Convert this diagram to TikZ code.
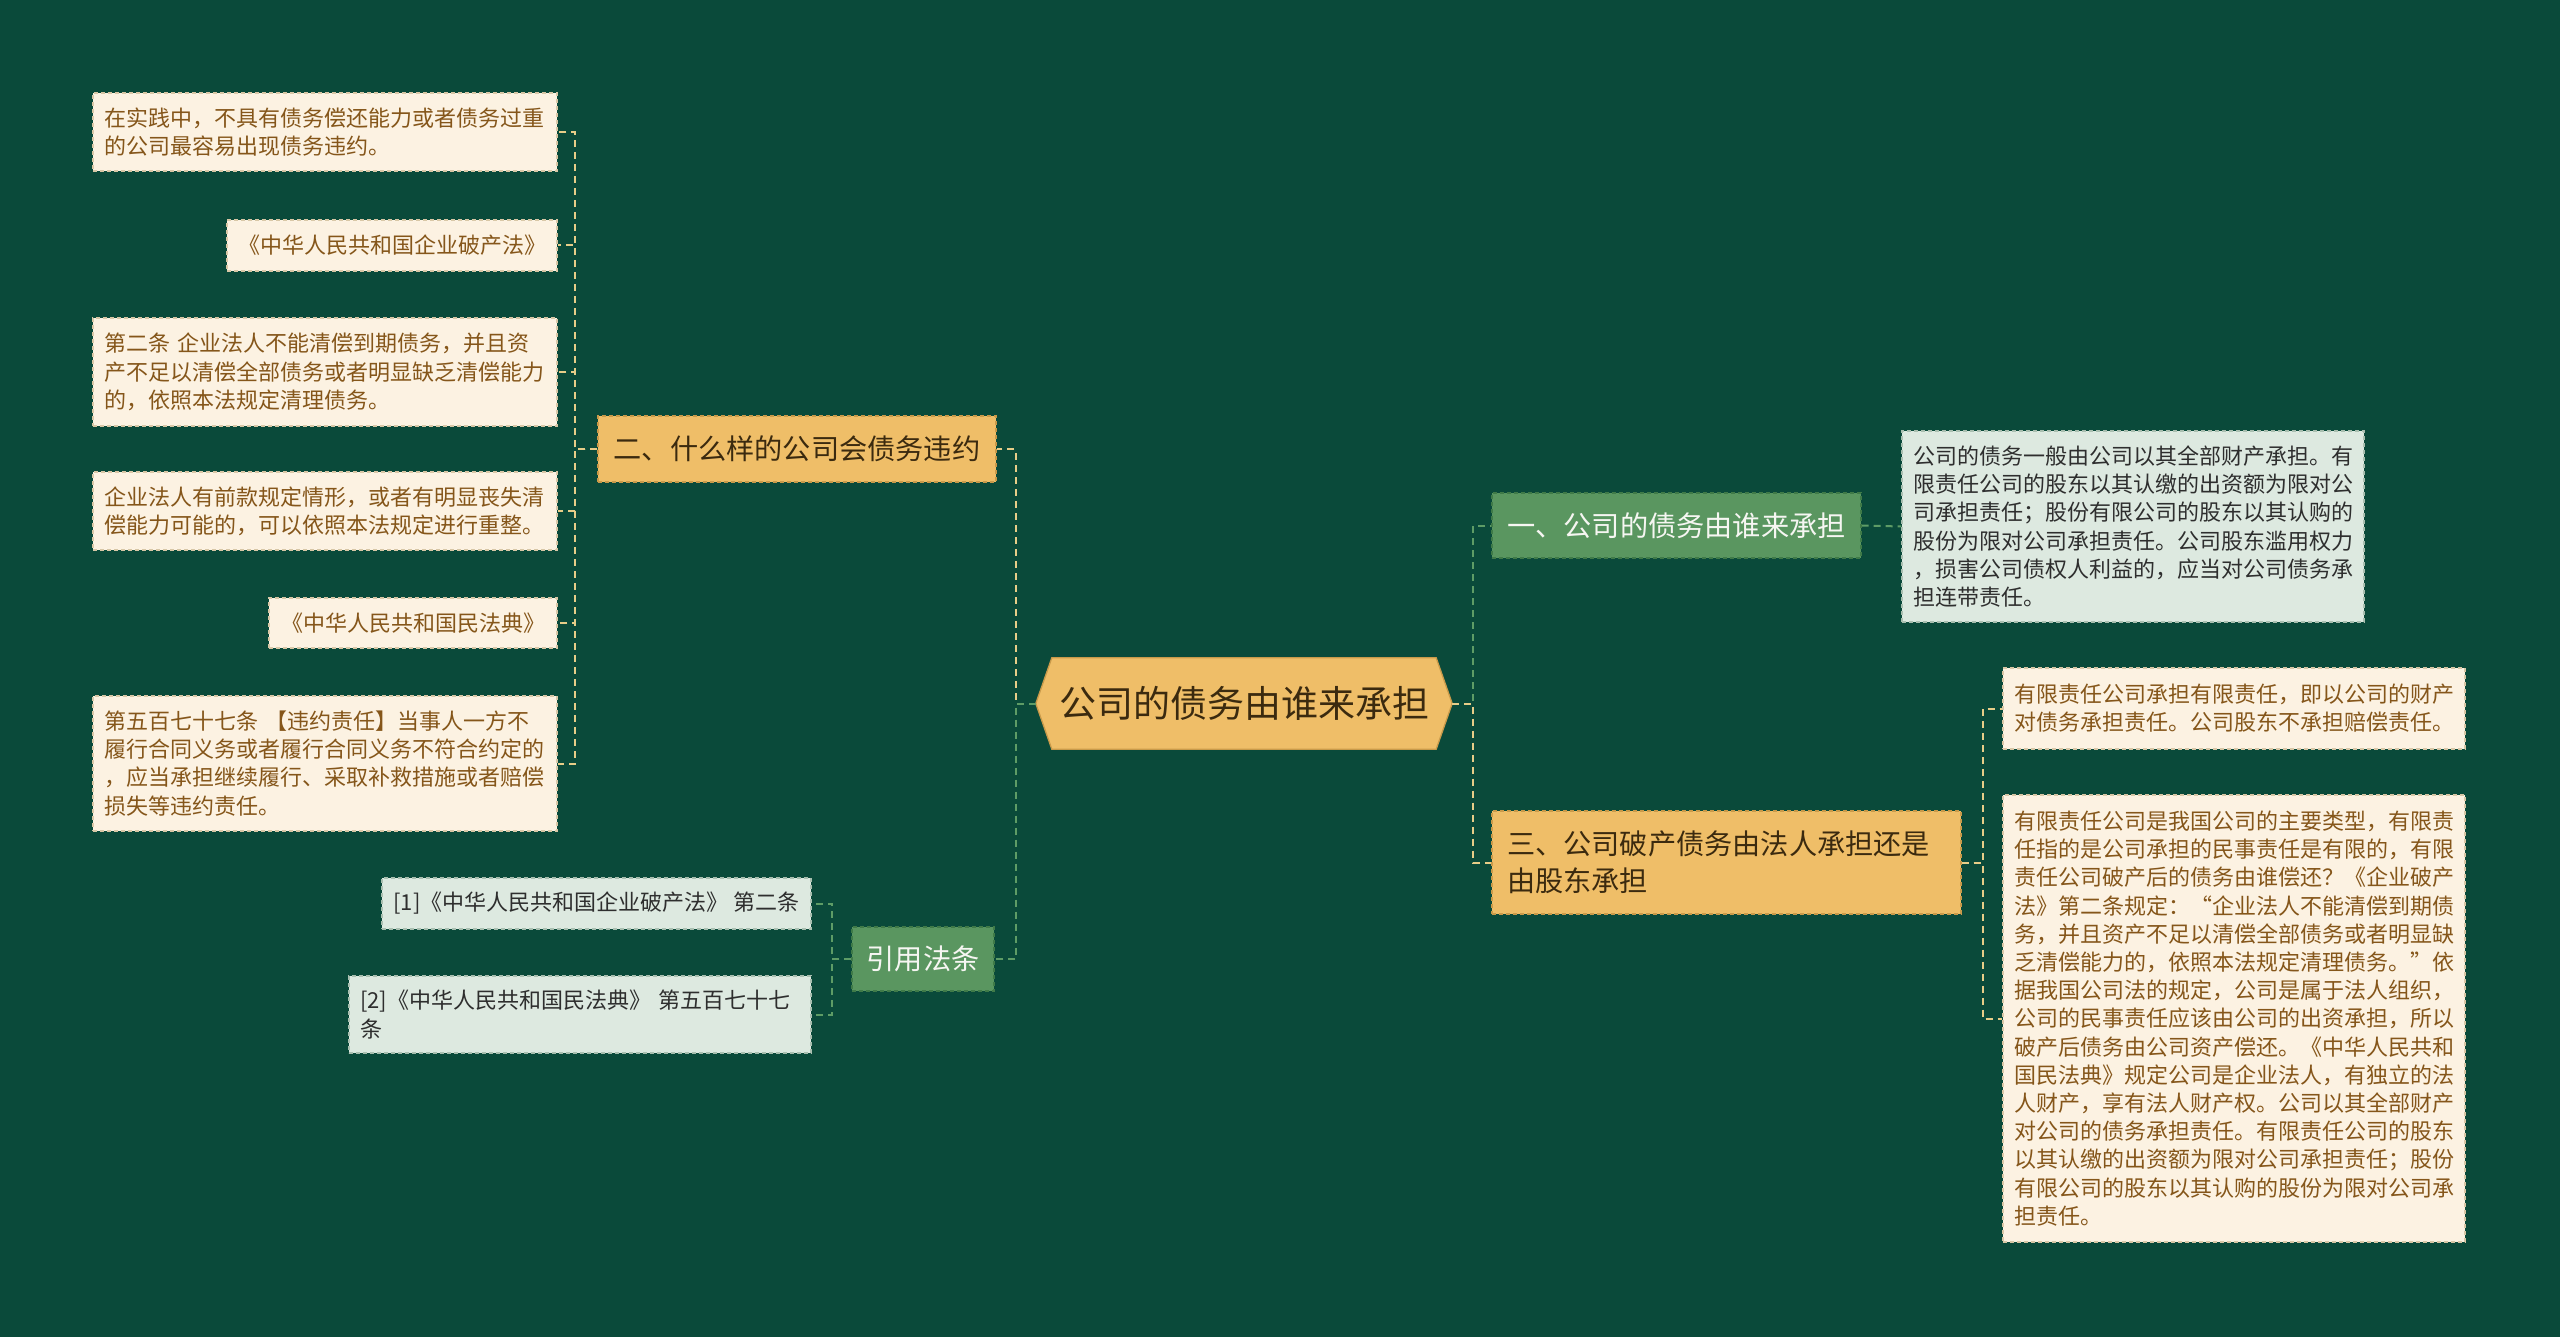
\documentclass[tikz,border=0pt]{standalone}
\usepackage{fontspec}
\newfontfamily\cjk{Noto Sans CJK SC}
\definecolor{bgc}{HTML}{0A4A3A}
\definecolor{orF}{HTML}{EFBE68}
\definecolor{orD}{HTML}{C99A4A}
\definecolor{orT}{HTML}{3B2A0F}
\definecolor{grF}{HTML}{5A9660}
\definecolor{grD}{HTML}{3F7A48}
\definecolor{grT}{HTML}{F6F6F2}
\definecolor{lgF}{HTML}{DDE9E0}
\definecolor{lgD}{HTML}{A9BFB0}
\definecolor{lgT}{HTML}{2E2E2E}
\definecolor{crF}{HTML}{FCF2E2}
\definecolor{crD}{HTML}{D8C7A6}
\definecolor{crT}{HTML}{85561A}
\definecolor{conY}{HTML}{E7CD88}
\definecolor{conG}{HTML}{5E9C66}
\pgfdeclarelayer{back}
\pgfdeclarelayer{mid}
\pgfsetlayers{back,mid,main}
\tikzset{
  box/.style={rectangle, inner xsep=11pt, inner ysep=0pt, align=left, line width=1.3pt, dash pattern=on 4pt off 3pt},
  small/.style={font=\cjk\fontsize{22}{28.2}\selectfont},
  mid/.style={font=\cjk\fontsize{28.2}{37.5}\selectfont},
  cream/.style={box, small, fill=crF, draw=crD, text=crT},
  lgreen/.style={box, small, fill=lgF, draw=lgD, text=lgT},
  orange/.style={box, mid, fill=orF, draw=orD, text=orT},
  green/.style={box, mid, fill=grF, draw=grD, text=grT},
  rootn/.style={rectangle, inner sep=0pt, font=\cjk\fontsize{37}{44}\selectfont, text=orT},
  rootshape/.style={fill=orF, draw=orD, line width=1.3pt, line join=miter},
  cy/.style={draw=conY, line width=2pt, dash pattern=on 7pt off 5pt},
  cg/.style={draw=conG, line width=2pt, dash pattern=on 7pt off 5pt},
}
\begin{document}
\begin{tikzpicture}[x=1pt, y=-1pt]
\begin{pgfonlayer}{back}
\fill[bgc] (0,0) rectangle (2560,1337);
\end{pgfonlayer}
\useasboundingbox (0,0) rectangle (2560,1337);

% root
\node[rootn, minimum width=384pt, minimum height=91pt] (root) at (1244,703.5) {公司的债务由谁来承担};
\begin{pgfonlayer}{mid}
\draw[rootshape] (root.north west) -- (root.north east) -- ([xshift=16pt]root.east) -- (root.south east) -- (root.south west) -- ([xshift=-16pt]root.west) -- cycle;
\end{pgfonlayer}

% main branches
\node[green, minimum width=369pt, minimum height=65pt, align=center] (n1) at (1676.5,525.5) {一、公司的债务由谁来承担};
\node[orange, inner xsep=15pt, text width=439pt, minimum height=103pt] (n3) at (1726.5,862.5) {三、公司破产债务由法人承担还是\\由股东承担};
\node[orange, minimum width=398pt, minimum height=66pt, align=center] (n2) at (797,449) {二、什么样的公司会债务违约};
\node[green, minimum width=142pt, minimum height=64pt, align=center] (cite) at (923,959) {引用法条};

% left leaves
\node[cream, text width=442pt, minimum height=78pt] (L1) at (325,132) {在实践中，不具有债务偿还能力或者债务过重\\的公司最容易出现债务违约。};
\node[cream, minimum width=330pt, minimum height=51pt, align=center] (L2) at (392,245.5) {《中华人民共和国企业破产法》};
\node[cream, text width=442pt, minimum height=108pt] (L3) at (325,372) {第二条 企业法人不能清偿到期债务，并且资\\产不足以清偿全部债务或者明显缺乏清偿能力\\的，依照本法规定清理债务。};
\node[cream, text width=442pt, minimum height=78pt] (L4) at (325,511) {企业法人有前款规定情形，或者有明显丧失清\\偿能力可能的，可以依照本法规定进行重整。};
\node[cream, minimum width=288pt, minimum height=50pt, align=center] (L5) at (413,623) {《中华人民共和国民法典》};
\node[cream, text width=442pt, minimum height=135pt] (L6) at (325,763.5) {第五百七十七条 【违约责任】当事人一方不\\履行合同义务或者履行合同义务不符合约定的\\，应当承担继续履行、采取补救措施或者赔偿\\损失等违约责任。};

% citations
\node[lgreen, minimum width=429pt, minimum height=51pt, align=center] (C1) at (596.5,903.5) {[1]《中华人民共和国企业破产法》 第二条};
\node[lgreen, text width=440pt, minimum height=77pt] (C2) at (580,1014.5) {[2]《中华人民共和国民法典》 第五百七十七\\条};

% right leaves
\node[lgreen, text width=440pt, minimum height=191pt] (R1) at (2133,526.5) {公司的债务一般由公司以其全部财产承担。有\\限责任公司的股东以其认缴的出资额为限对公\\司承担责任；股份有限公司的股东以其认购的\\股份为限对公司承担责任。公司股东滥用权力\\，损害公司债权人利益的，应当对公司债务承\\担连带责任。};
\node[cream, text width=440pt, minimum height=81pt] (R2) at (2234,708.5) {有限责任公司承担有限责任，即以公司的财产\\对债务承担责任。公司股东不承担赔偿责任。};
\node[cream, text width=440pt, minimum height=447pt] (R3) at (2234,1018.5) {有限责任公司是我国公司的主要类型，有限责\\任指的是公司承担的民事责任是有限的，有限\\责任公司破产后的债务由谁偿还？《企业破产\\法》第二条规定：“企业法人不能清偿到期债\\务，并且资产不足以清偿全部债务或者明显缺\\乏清偿能力的，依照本法规定清理债务。”依\\据我国公司法的规定，公司是属于法人组织，\\公司的民事责任应该由公司的出资承担，所以\\破产后债务由公司资产偿还。《中华人民共和\\国民法典》规定公司是企业法人，有独立的法\\人财产，享有法人财产权。公司以其全部财产\\对公司的债务承担责任。有限责任公司的股东\\以其认缴的出资额为限对公司承担责任；股份\\有限公司的股东以其认购的股份为限对公司承\\担责任。};

% connectors
\begin{pgfonlayer}{mid}
\draw[cy] ([xshift=-16pt]root.west) -- ++(-20,0) |- (n2.east);
\draw[cg] ([xshift=-16pt]root.west) -- ++(-20,0) |- (cite.east);
\draw[cg] ([xshift=16pt]root.east) -- ++(21,0) |- (n1.west);
\draw[cy] ([xshift=16pt]root.east) -- ++(21,0) |- (n3.west);
\foreach \c in {L1,L2,L3,L4,L5,L6} {
  \draw[cy] (n2.west) -- ++(-22,0) |- (\c.east);
}
\foreach \c in {C1,C2} {
  \draw[cg] (cite.west) -- ++(-19,0) |- (\c.east);
}
\draw[cg] (n1.east) -- (R1.west);
\foreach \c in {R2,R3} {
  \draw[cy] (n3.east) -- ++(21,0) |- (\c.west);
}
\end{pgfonlayer}
\end{tikzpicture}
\end{document}
